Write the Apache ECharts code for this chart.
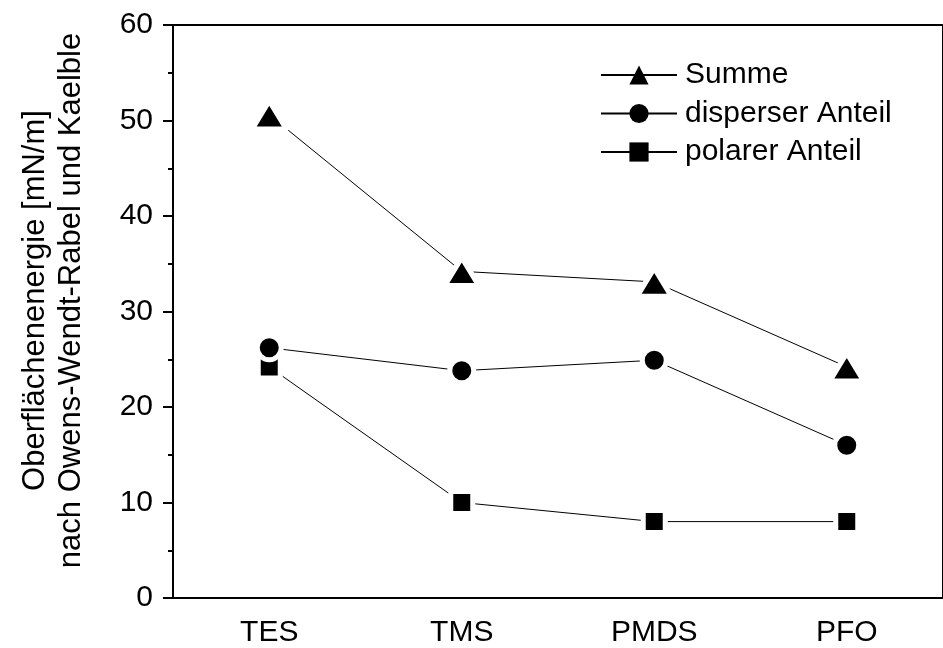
<!DOCTYPE html>
<html>
<head>
<meta charset="utf-8">
<script src="https://cdn.jsdelivr.net/npm/echarts@6/dist/echarts.min.js"></script>
<style>
  html, body { margin: 0; padding: 0; background: #fff; }
  #chart { width: 943px; height: 648px; }
</style>
</head>
<body>
<div id="chart"></div>
<script>
// Surface energy of the coatings (mN/m), Owens-Wendt-Rabel-Kaelble method
const categories = ['TES', 'TMS', 'PMDS', 'PFO'];
const summe = [50.6, 34.2, 33.1, 24.2];
const disperser = [26.2, 23.8, 24.9, 16.0];
const polarer = [24.2, 10.0, 8.0, 8.0];
const yTicks = [0, 10, 20, 30, 40, 50, 60];

const FONT = '"Liberation Sans", Arial, sans-serif';
const BLACK = '#000';

function lineSeries(name, data, symbol, size) {
  return {
    name: name,
    type: 'line',
    data: data,
    symbol: symbol,
    symbolSize: size,
    lineStyle: { color: BLACK, width: 1 },
    // white rim leaves a small gap where the line meets the marker
    itemStyle: { color: BLACK, borderColor: '#fff', borderWidth: 5, borderJoin: 'round' },
    emphasis: { disabled: true },
    animation: false
  };
}

const chart = echarts.init(document.getElementById('chart'), null, { renderer: 'canvas' });
chart.setOption({
  backgroundColor: '#fff',
  animation: false,
  grid: {
    left: 173, top: 25, width: 777, height: 574,
    show: true, borderColor: BLACK, borderWidth: 2, backgroundColor: 'transparent'
  },
  legend: {
    orient: 'vertical',
    left: 595, top: 55,
    itemWidth: 76, itemHeight: 24,
    itemGap: 8.5,
    data: [
      { name: 'Summe', itemStyle: { borderWidth: 0 } },
      { name: 'disperser Anteil', itemStyle: { borderWidth: 0 } },
      { name: 'polarer Anteil', itemStyle: { borderWidth: 0 } }
    ],
    textStyle: { fontFamily: FONT, fontSize: 30, color: BLACK, padding: [0, 0, 0, 3] }
  },
  xAxis: {
    type: 'category',
    data: categories,
    boundaryGap: true,
    axisLine: { lineStyle: { color: BLACK, width: 2 } },
    axisTick: { alignWithLabel: true, length: 12, lineStyle: { color: BLACK, width: 2 } },
    axisLabel: { fontFamily: FONT, fontSize: 30, color: BLACK, margin: 20 },
    splitLine: { show: false }
  },
  yAxis: {
    type: 'value',
    min: yTicks[0], max: yTicks[yTicks.length - 1], interval: 10,
    name: 'Oberflächenenergie [mN/m]\nnach Owens-Wendt-Rabel und Kaelble',
    nameLocation: 'middle',
    nameRotate: 90,
    nameGap: 84,
    nameTextStyle: { fontFamily: FONT, fontSize: 31, color: BLACK, lineHeight: 36, padding: [0, 0, 0, 22] },
    axisLine: { show: true, lineStyle: { color: BLACK, width: 2 } },
    axisTick: { show: true, inside: false, length: 10, lineStyle: { color: BLACK, width: 2 } },
    minorTick: { show: true, splitNumber: 2, length: 5, lineStyle: { color: BLACK, width: 2 } },
    axisLabel: { fontFamily: FONT, fontSize: 30, color: BLACK, margin: 20 },
    splitLine: { show: false }
  },
  series: [
    lineSeries('polarer Anteil', polarer, 'rect', 22),
    lineSeries('disperser Anteil', disperser, 'circle', 24),
    lineSeries('Summe', summe, 'triangle', [34, 28])
  ]
});
</script>
</body>
</html>
